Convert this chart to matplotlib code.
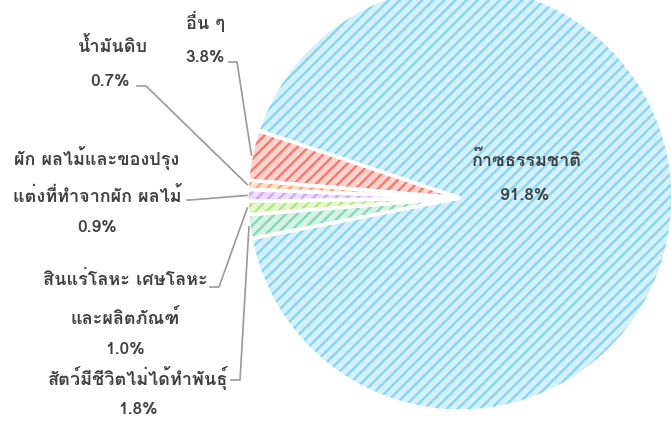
import numpy as np
import matplotlib
matplotlib.use("Agg")
import matplotlib.pyplot as plt
from matplotlib import font_manager
from matplotlib.ft2font import FT2Font

# ข้อมูล (เปอร์เซ็นต์)
labels = [
    "ก๊าซธรรมชาติ",
    "อื่น ๆ",
    "น้ำมันดิบ",
    "ผัก ผลไม้และของปรุง\nแต่งที่ทำจากผัก ผลไม้",
    "สินแร่โลหะ เศษโลหะ\nและผลิตภัณฑ์",
    "สัตว์มีชีวิตไม่ได้ทำพันธุ์",
]
values = [91.8, 3.8, 0.7, 0.9, 1.0, 1.8]
fill_colors = ["#d3f0fb", "#fcd3ce", "#fde0cc", "#eddcfd", "#e4f6d0", "#d5f2e4"]
stripe_colors = ["#89d5f4", "#f47a6e", "#f9a66c", "#d0a8fa", "#b2e87a", "#86d9b4"]

# หา font ที่มีอักษรไทย
thai_fonts = []
for f in font_manager.fontManager.ttflist:
    try:
        if 0x0E01 in FT2Font(f.fname).get_charmap():
            thai_fonts.append(f.name)
    except Exception:
        pass
families = (thai_fonts[:1] if thai_fonts else []) + ["DejaVu Sans"]
plt.rcParams["font.family"] = families
plt.rcParams["hatch.linewidth"] = 1.7

W, H = 671, 433
fig = plt.figure(figsize=(W / 100, H / 100), dpi=100)
ax = fig.add_axes([0, 0, 1, 1])

cx, cy, r = 460, H - 198, 213
start = 191

wedges, _ = ax.pie(
    values,
    colors=fill_colors,
    startangle=start,
    center=(cx, cy),
    radius=r,
    counterclock=True,
    wedgeprops=dict(linewidth=0),
)
for w, sc in zip(wedges, stripe_colors):
    w.set_hatch("///")
    w.set_edgecolor(sc)
    w.set_linewidth(0)

# ขอบสีขาว
ax.pie(
    values,
    colors=["none"] * len(values),
    startangle=start,
    center=(cx, cy),
    radius=r,
    counterclock=True,
    wedgeprops=dict(linewidth=2.5, edgecolor="white", fill=False),
)

ax.set_xlim(0, W)
ax.set_ylim(0, H)
ax.set_aspect("equal")
ax.axis("off")

txt = dict(ha="center", va="center", color="#404040", fontsize=13, fontweight="bold")
num = dict(txt, fontsize=12.5)
line = dict(color="#999999", lw=1.2)


def edge_point(i, rr=r):
    w = wedges[i]
    a = np.deg2rad((w.theta1 + w.theta2) / 2)
    return cx + rr * np.cos(a), cy + rr * np.sin(a)


def py(y):
    return H - y


# ก๊าซธรรมชาติ (ข้างในชิ้น)
ax.text(527, py(160), labels[0], **txt)
ax.text(525, py(195), f"{values[0]}%", **num)

# label: (index, text lines [(x, y)], elbow points)
callouts = [
    (1, [(205, 22), (205, 57)], [(229, 62), (237, 62)]),
    (2, [(113, 47), (110, 82)], [(137, 86), (146, 86)]),
    (3, [(97, 158), (97, 196), (97, 228)], [(187, 200), (190, 200)]),
    (4, [(125, 280), (125, 318), (125, 350)], [(210, 287), (219, 287)]),
    (5, [(138, 378), (138, 410)], [(231, 380), (240, 380)]),
]
for i, pos, elbow in callouts:
    lines = labels[i].split("\n") + [f"{values[i]}%"]
    for k, ((x, y), s) in enumerate(zip(pos, lines)):
        ax.text(x, py(y), s, **(num if k == len(lines) - 1 else txt))
    ex, ey = edge_point(i)
    xs = [p[0] for p in elbow] + [ex]
    ys = [py(p[1]) for p in elbow] + [ey]
    ax.plot(xs, ys, **line)

fig.savefig("out.png", dpi=100)
